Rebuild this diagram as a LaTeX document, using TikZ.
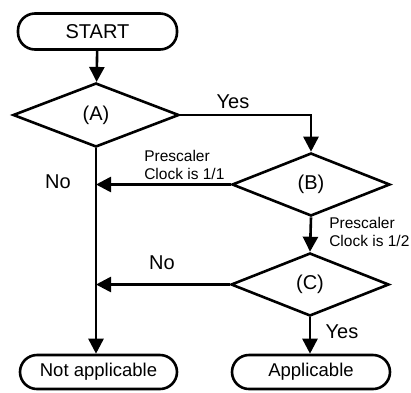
\documentclass[tikz,border=0pt]{standalone}
\usepackage{fontspec}
\setmainfont{Liberation Sans}
\usetikzlibrary{arrows.meta,shapes.geometric}
\begin{document}
\begin{tikzpicture}[x=1pt,y=-1pt,
  line width=2.6pt,
  term/.style={draw, rounded corners=17pt, minimum height=36pt, inner sep=0pt, font=\fontsize{18.5}{20}\selectfont},
  dec/.style={draw, diamond, inner sep=0pt, minimum width=158pt, minimum height=63pt, font=\fontsize{20}{22}\selectfont},
  lab/.style={font=\fontsize{20}{22}\selectfont, inner sep=0pt},
  small/.style={font=\fontsize{15.5}{18}\selectfont, align=left, inner sep=0pt, anchor=west},
  arr/.style={-{Triangle[length=15pt,width=15pt]}}]
\useasboundingbox (0,0) rectangle (411,392);
\node[term, minimum width=159pt, font=\fontsize{20}{22}\selectfont] (start) at (97.5,31.5) {START};
\node[dec, minimum width=166pt, minimum height=64pt] (A) at (96,115) {(A)};
\node[dec] (B) at (311,184.5) {(B)};
\node[dec] (C) at (310,284.5) {(C)};
\node[term, minimum width=157pt, minimum height=34pt] (na) at (98.5,372) {Not applicable};
\node[term, minimum width=158pt, minimum height=34pt] (ap) at (311,372) {Applicable};
\coordinate (jb) at (A.south |- B.west);
\coordinate (jc) at (A.south |- C.west);
\draw[arr] (start) -- (A);
\draw[arr] (A.east) -| (B.north);
\draw[arr] (B.west) -- (jb);
\draw[arr] (A.south) -- (A.south |- na.north);
\draw[arr] (B.south) -- (C.north);
\draw[arr] (C.west) -- (jc);
\draw[arr] (C.south) -- (C.south |- ap.north);
\node[lab] (yes1) at (233,102) {Yes};
\node[lab] (no1) at (58,182) {No};
\node[lab] (no2) at (162,263) {No};
\node[lab] (yes2) at (342,332) {Yes};
\node[small] (p1) at (143,165) {Prescaler\\Clock is 1/1};
\node[small] (p2) at (328,232) {Prescaler\\Clock is 1/2};
\end{tikzpicture}
\end{document}
